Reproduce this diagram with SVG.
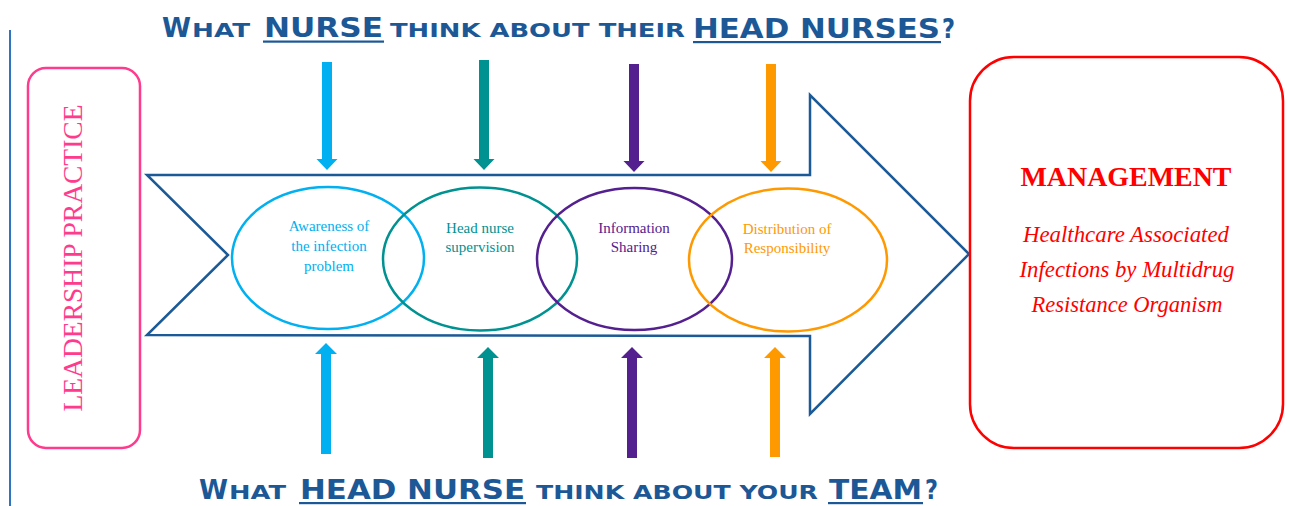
<svg xmlns="http://www.w3.org/2000/svg" width="1290" height="506" viewBox="0 0 1290 506">
  <style>
    .title { font-family: "DejaVu Sans", "Liberation Sans", sans-serif; font-weight: bold; fill: #1C5896; }
    .big { font-size: 27px; }
    .small { font-size: 19px; }
    .uline { fill: #1C5896; }
    .oval { fill: none; stroke-width: 2.5; }
    .oval-text { font-family: "Liberation Serif", "Times New Roman", serif; font-size: 15px; text-anchor: middle; }
    .red-text { font-family: "Liberation Serif", "Times New Roman", serif; fill: #FF0000; text-anchor: middle; }
  </style>

  <rect width="1290" height="506" fill="#FFFFFF"/>

  <!-- left margin rule -->
  <line x1="10" y1="30" x2="10" y2="506" stroke="#2E75C0" stroke-width="2"/>

  <!-- heading above -->
  <g id="title-top">
    <text class="title big" x="162" y="37" textLength="29" lengthAdjust="spacingAndGlyphs">W</text>
    <text class="title small" x="192" y="37" textLength="58" lengthAdjust="spacingAndGlyphs">HAT</text>
    <text class="title big" x="264" y="37" textLength="119" lengthAdjust="spacingAndGlyphs">NURSE</text>
    <rect class="uline" x="263" y="40.5" width="121" height="2.2"/>
    <text class="title small" x="390" y="37" textLength="295" lengthAdjust="spacingAndGlyphs">THINK ABOUT THEIR</text>
    <text class="title big" x="693" y="38" textLength="247" lengthAdjust="spacingAndGlyphs">HEAD NURSES</text>
    <rect class="uline" x="693" y="41" width="248" height="2.2"/>
    <text class="title big" x="942" y="38" textLength="13" lengthAdjust="spacingAndGlyphs">?</text>
  </g>

  <!-- heading below -->
  <g id="title-bottom">
    <text class="title big" x="199" y="499" textLength="29" lengthAdjust="spacingAndGlyphs">W</text>
    <text class="title small" x="229" y="499" textLength="57" lengthAdjust="spacingAndGlyphs">HAT</text>
    <text class="title big" x="300" y="499" textLength="225" lengthAdjust="spacingAndGlyphs">HEAD NURSE</text>
    <rect class="uline" x="299" y="502" width="227" height="2.2"/>
    <text class="title small" x="536" y="499" textLength="282" lengthAdjust="spacingAndGlyphs">THINK ABOUT YOUR</text>
    <text class="title big" x="829" y="499" textLength="93" lengthAdjust="spacingAndGlyphs">TEAM</text>
    <rect class="uline" x="828" y="502" width="95" height="2.2"/>
    <text class="title big" x="925" y="499" textLength="13" lengthAdjust="spacingAndGlyphs">?</text>
  </g>

  <!-- left node -->
  <g id="leadership-practice">
    <rect x="28" y="68" width="112" height="380" rx="18" ry="18" fill="none" stroke="#FF3B8D" stroke-width="2.5"/>
    <text transform="translate(82,258) rotate(-90)" text-anchor="middle" font-family="'Liberation Serif', 'Times New Roman', serif" font-size="27" fill="#FF3B8D" textLength="307" lengthAdjust="spacingAndGlyphs">LEADERSHIP PRACTICE</text>
  </g>

  <!-- central chevron arrow -->
  <g id="process-arrow">
    <path d="M147,175 L810,175 L810,95 L969,254 L810,414 L810,336 L147,335 L228,255 Z" fill="none" stroke="#1B5A96" stroke-width="2.5" stroke-linejoin="miter"/>
  </g>

  <!-- overlapping factors -->
  <g id="awareness">
    <ellipse class="oval" cx="328" cy="258" rx="96" ry="71" stroke="#00B0F0"/>
    <text class="oval-text" fill="#00B0F0"><tspan x="329" y="231">Awareness of</tspan><tspan x="329" y="251">the infection</tspan><tspan x="329" y="271">problem</tspan></text>
  </g>
  <g id="supervision">
    <ellipse class="oval" cx="480" cy="259" rx="97" ry="71.5" stroke="#009191"/>
    <text class="oval-text" fill="#009191"><tspan x="480" y="233">Head nurse</tspan><tspan x="480" y="252">supervision</tspan></text>
  </g>
  <g id="information-sharing">
    <ellipse class="oval" cx="634.5" cy="259" rx="97.5" ry="71" stroke="#54208F"/>
    <text class="oval-text" fill="#54208F"><tspan x="634" y="233">Information</tspan><tspan x="634" y="252">Sharing</tspan></text>
  </g>
  <g id="responsibility">
    <ellipse class="oval" cx="788" cy="260" rx="99" ry="71.5" stroke="#FF9900"/>
    <text class="oval-text" fill="#FF9900"><tspan x="787" y="234">Distribution of</tspan><tspan x="787" y="253">Responsibility</tspan></text>
  </g>

  <!-- outcome node -->
  <g id="management">
    <rect x="970" y="57" width="313" height="391" rx="44" ry="44" fill="none" stroke="#FF0000" stroke-width="2.5"/>
    <text class="red-text" x="1126" y="186" font-size="27" font-weight="bold" textLength="211" lengthAdjust="spacingAndGlyphs">MANAGEMENT</text>
    <text class="red-text" x="1126" y="242" font-size="23" font-style="italic" textLength="206" lengthAdjust="spacingAndGlyphs">Healthcare Associated</text>
    <text class="red-text" x="1127" y="277" font-size="23" font-style="italic" textLength="215" lengthAdjust="spacingAndGlyphs">Infections by Multidrug</text>
    <text class="red-text" x="1127" y="312" font-size="23" font-style="italic" textLength="191" lengthAdjust="spacingAndGlyphs">Resistance Organism</text>
  </g>

  <!-- block arrows feeding each factor -->
  <g id="connectors">
    <polygon points="322,62 332,62 332,159 337.5,159 327,170 316.5,159 322,159" fill="#00B0F0"/>
    <polygon points="479,60 489,60 489,159 494.5,159 484,170 473.5,159 479,159" fill="#009191"/>
    <polygon points="629,64 639,64 639,161 644.5,161 634,172 623.5,161 629,161" fill="#54208F"/>
    <polygon points="766,64 776,64 776,161 781.5,161 771,172 760.5,161 766,161" fill="#FF9900"/>

    <polygon points="321,454 331,454 331,354 337,354 326,343 315,354 321,354" fill="#00B0F0"/>
    <polygon points="483,458 493,458 493,358 499,358 488,347 477,358 483,358" fill="#009191"/>
    <polygon points="627,458 637,458 637,358 643,358 632,347 621,358 627,358" fill="#54208F"/>
    <polygon points="770,457 780,457 780,358 786,358 775,347 764,358 770,358" fill="#FF9900"/>
  </g>
</svg>
